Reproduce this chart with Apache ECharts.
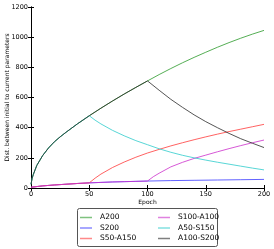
<!DOCTYPE html>
<html><head><meta charset="utf-8">
<script src="https://cdn.jsdelivr.net/npm/echarts@6/dist/echarts.min.js"></script>
<style>html,body{margin:0;padding:0;background:#fff}#c{width:274px;height:249px}</style>
</head><body><div id="c"></div>
<script>
// ---- data ----
const xTicks = [0, 50, 100, 150, 200];
const yTicks = [0, 200, 400, 600, 800, 1000, 1200];
const seriesNames = ['A200', 'S200', 'S50-A150', 'S100-A100', 'A50-S150', 'A100-S200'];

const epochsA200 = [0,1,2,5,10,15,20,25,30,40,50,60,70,80,90,100,110,120,130,140,150,160,170,180,190,200];
const valuesA200 = [25,65,90,150,215,265,306,339,369,426,479,529,577,623,667,710,752,792,830,866,900,933,964,993,1020,1045];

const epochsS200 = [0,10,20,30,40,50,60,70,80,90,100,120,140,160,180,200];
const valuesS200 = [5,14,20,25,30,34,37,40,42,44,46,49,51,53,55,57];

const epochsS50A150 = [55,60,70,80,90,100,110,120,130,140,150,160,170,180,190,200];
const valuesS50A150 = [65,92,136,172,204,232,256,279,300,320,339,357,374,390,406,422];

const epochsS100A100 = [105,110,120,130,140,150,160,170,180,190,200];
const valuesS100A100 = [75,98,140,170,196,218,240,261,281,300,318];

const epochsA50S150 = [55,60,70,80,90,100,110,120,130,140,150,160,170,180,190,200];
const valuesA50S150 = [450,425,382,346,314,287,260,237,217,200,185,171,158,145,132,120];

const epochsA100S200 = [110,120,130,140,150,160,170,180,190,200];
const valuesA100S200 = [648,588,535,485,440,400,362,327,297,268];

// ---- build series ----
function zip(xs, ys) { return xs.map((x, i) => [x, ys[i]]); }
function prefix(xs, ys, upTo) { return zip(xs, ys).filter(p => p[0] <= upTo); }

const dA200 = zip(epochsA200, valuesA200);
const dS200 = zip(epochsS200, valuesS200);
const dS50A150 = prefix(epochsS200, valuesS200, 50).concat(zip(epochsS50A150, valuesS50A150));
const dS100A100 = prefix(epochsS200, valuesS200, 100).concat(zip(epochsS100A100, valuesS100A100));
const dA50S150 = prefix(epochsA200, valuesA200, 50).concat(zip(epochsA50S150, valuesA50S150));
const dA100S200 = prefix(epochsA200, valuesA200, 100).concat(zip(epochsA100S200, valuesA100S200));

const colors = ['#2a9a2a', '#3b3bff', '#ff3b3b', '#cc2ecc', '#2ecccc', '#2a2a2a'];
const datas = [dA200, dS200, dS50A150, dS100A100, dA50S150, dA100S200];

const FONT = 'DejaVu Sans';
const chart = echarts.init(document.getElementById('c'), null, {renderer: 'canvas'});

const series = seriesNames.map((n, i) => ({
  name: n, type: 'line', data: datas[i], showSymbol: false, symbol: 'none',
  smooth: false,
  lineStyle: {color: colors[i], width: 1, opacity: 0.8},
  itemStyle: {color: colors[i]},
  z: 2 + i, animation: false
}));

const legendCommon = {
  orient: 'vertical', itemWidth: 12, itemHeight: 1.5, itemGap: 1.5, padding: 0,
  height: 40, icon: 'rect',
  textStyle: {fontFamily: FONT, fontSize: 7.5, color: '#000', lineHeight: 9, padding: [0,0,0,3]},
  selectedMode: false
};
function legendData(names) {
  return names.map(n => ({name: n, itemStyle: {color: colors[seriesNames.indexOf(n)], opacity: 0.6}}));
}

chart.setOption({
  animation: false,
  backgroundColor: '#fff',
  grid: {left: 31, right: 10, top: 7, bottom: 61, containLabel: false, outerBoundsMode: 'none'},
  xAxis: [{
    type: 'value', min: 0, max: 200, interval: 50, position: 'bottom',
    name: 'Epoch', nameLocation: 'middle', nameGap: 11, nameMoveOverlap: false,
    nameTextStyle: {fontFamily: FONT, fontSize: 6, color: '#000'},
    axisLine: {lineStyle: {color: '#000', width: 1}},
    axisTick: {inside: true, length: 3, lineStyle: {color: '#000'}},
    axisLabel: {fontFamily: FONT, fontSize: 6.5, color: '#000', margin: 3,
      formatter: v => xTicks.includes(v) ? String(v) : ''},
    splitLine: {show: false}
  }, {
    type: 'value', min: 0, max: 200, interval: 50, position: 'top',
    axisLine: {lineStyle: {color: '#000', width: 1}},
    axisTick: {inside: true, length: 3, lineStyle: {color: '#000'}},
    axisLabel: {show: false}, splitLine: {show: false}
  }],
  yAxis: [{
    type: 'value', min: 0, max: 1200, interval: 200, position: 'left',
    name: 'Dist. between initial to current parameters', nameLocation: 'middle', nameGap: 21,
    nameRotate: 90, nameMoveOverlap: false,
    nameTextStyle: {fontFamily: FONT, fontSize: 6, color: '#000'},
    axisLine: {show: true, lineStyle: {color: '#000', width: 1}},
    axisTick: {show: true, inside: true, length: 3, lineStyle: {color: '#000'}},
    axisLabel: {fontFamily: FONT, fontSize: 6.5, color: '#000', margin: 3,
      formatter: v => yTicks.includes(v) ? String(v) : ''},
    splitLine: {show: false}
  }, {
    type: 'value', min: 0, max: 1200, interval: 200, position: 'right',
    axisLine: {show: true, lineStyle: {color: '#000', width: 1}},
    axisTick: {show: true, inside: true, length: 3, lineStyle: {color: '#000'}},
    axisLabel: {show: false}, splitLine: {show: false}
  }],
  legend: [
    Object.assign({left: 80, top: 213, data: legendData(seriesNames.slice(0, 3))}, legendCommon),
    Object.assign({left: 158, top: 213, data: legendData(seriesNames.slice(3))}, legendCommon)
  ],
  graphic: [{
    type: 'rect', left: 77, top: 208, z: 0,
    shape: {width: 140, height: 38, r: 2},
    style: {fill: '#fff', stroke: '#555', lineWidth: 1}
  }],
  series: series
});
</script></body></html>
